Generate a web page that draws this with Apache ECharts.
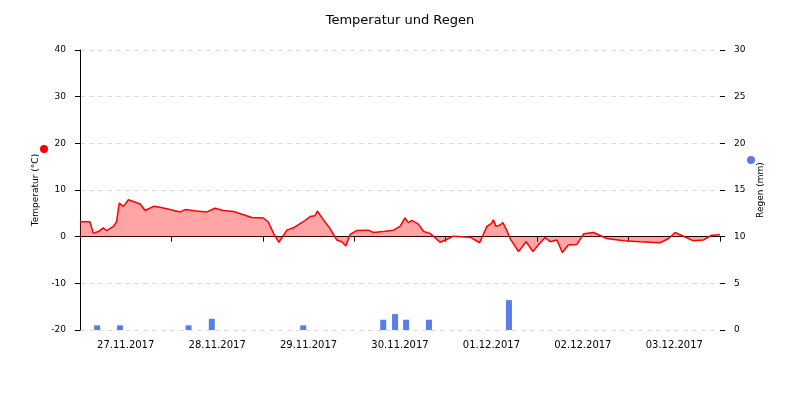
<!DOCTYPE html>
<html lang="de">
<head>
    <meta charset="UTF-8">
    <title>Temperatur und Regen</title>
    <script src="https://cdn.jsdelivr.net/npm/echarts@6/dist/echarts.min.js"></script>
</head>
<body style="margin:0">
    <div id="box" style="width: 800px; height: 400px; background-color: white;"></div>
    <script>
        // Stunden ab 27.11.2017 00:00
        var dayLabels = ['27.11.2017', '28.11.2017', '29.11.2017', '30.11.2017', '01.12.2017', '02.12.2017', '03.12.2017'];
        var tempHours = [0, 2.6, 3.5, 4.8, 6.1, 7, 8.8, 9.6, 10.3, 11.4, 12.7, 15.8, 17.1, 19.3, 21, 23.6, 26.3, 27.6, 30.6, 33.3,
            35.4, 37.6, 40.3, 42.9, 45.1, 48.1, 49.4, 50.8, 52.2, 54.3, 56, 58.6, 60.4, 61.7, 62.3, 63.9, 65.6, 67.4, 68.7, 69.8,
            70.9, 72.6, 75.7, 77, 79.6, 82.3, 84, 85.3, 86.2, 87.1, 88.8, 90.2, 91.9, 94.5, 96.3, 98, 102.4, 104.9, 106.8, 108.1,
            108.5, 109.2, 110.3, 111, 112, 112.9, 115.1, 117.1, 118.9, 120.3, 122.1, 123.4, 125.2, 126.6, 128.2, 130.4, 132.2, 134.8,
            138.3, 142.7, 147, 152.3, 154.5, 156.2, 158.4, 161, 163.7, 165.8, 168];
        var tempValues = [3.2, 3.2, 0.7, 1.1, 1.9, 1.3, 2.2, 3.2, 7.2, 6.5, 7.9, 7.0, 5.6, 6.5, 6.3, 5.8, 5.3, 5.8, 5.5, 5.3,
            6.1, 5.6, 5.4, 4.7, 4.1, 4.0, 3.2, 0.7, -1.2, 1.4, 1.9, 3.2, 4.3, 4.5, 5.5, 3.6, 1.8, -0.7, -1.1, -2.0,
            0.5, 1.3, 1.4, 0.9, 1.1, 1.4, 2.2, 4.0, 3.0, 3.5, 2.7, 1.1, 0.7, -1.2, -0.6, 0.1, -0.1, -1.3, 2.2, 2.9,
            3.6, 2.2, 2.5, 3.0, 1.4, -0.4, -3.2, -1.1, -3.2, -1.8, -0.2, -1.1, -0.7, -3.4, -1.8, -1.7, 0.6, 0.9,
            -0.4, -0.9, -1.1, -1.3, -0.4, 0.9, 0.1, -0.9, -0.7, 0.3, 0.4];
        var rainHours = [4.5, 10.5, 28.5, 34.6, 58.6, 79.6, 82.7, 85.6, 91.6, 112.6];
        var rainValues = [0.5, 0.5, 0.5, 1.2, 0.5, 1.1, 1.7, 1.1, 1.1, 3.2];

        var font = 'DejaVu Sans';
        var chart = echarts.init(document.getElementById('box'));
        chart.setOption({
            animation: false,
            textStyle: { fontFamily: font },
            title: {
                text: 'Temperatur und Regen', left: 'center', top: 9,
                textStyle: { fontSize: 13, fontWeight: 'normal', color: '#000', fontFamily: font }
            },
            grid: { left: 80, right: 80, top: 50, bottom: 70 },
            xAxis: {
                type: 'value', min: 0, max: 168,
                axisLine: { show: true, lineStyle: { color: '#000' } },
                axisTick: { show: true, length: 5, lineStyle: { color: '#000' }, customValues: [24, 48, 72, 96, 120, 144, 168] },
                axisLabel: {
                    color: '#000', fontSize: 10, margin: 10,
                    customValues: [12, 36, 60, 84, 108, 132, 156],
                    formatter: function (v) { return dayLabels[Math.floor(v / 24)] || ''; }
                },
                splitLine: { show: false }
            },
            yAxis: [{
                type: 'value', min: -20, max: 40, interval: 10,
                name: 'Temperatur (°C)', nameLocation: 'middle', nameGap: 32, nameRotate: 90,
                nameTextStyle: { fontSize: 9, color: '#000' },
                axisLine: { show: true, lineStyle: { color: '#000' } },
                axisTick: { show: true, length: 5, lineStyle: { color: '#000' } },
                axisLabel: { color: '#000', fontSize: 9, margin: 14 },
                splitLine: { lineStyle: { type: [5, 4], color: '#ddd' } }
            }, {
                type: 'value', min: 0, max: 30, interval: 5,
                name: 'Regen (mm)', nameLocation: 'middle', nameGap: 28, nameRotate: 90,
                nameTextStyle: { fontSize: 9, color: '#000' },
                axisLine: { show: false },
                axisTick: { show: true, length: 5, lineStyle: { color: '#000' } },
                axisLabel: { color: '#000', fontSize: 9, margin: 14 },
                splitLine: { show: false }
            }],
            graphic: [
                { type: 'circle', shape: { cx: 44, cy: 149, r: 4 }, style: { fill: '#ff0000' } },
                { type: 'circle', shape: { cx: 751, cy: 160, r: 4 }, style: { fill: '#5a7ee8' } }
            ],
            series: [{
                type: 'line', name: 'Temperatur', yAxisIndex: 0, showSymbol: false,
                lineStyle: { color: '#ff0000', width: 1.5 },
                itemStyle: { color: '#ff0000' },
                areaStyle: { color: 'rgba(255,0,0,0.5)', origin: 0 },
                data: tempHours.map(function (h, i) { return [h, tempValues[i]]; })
            }, {
                type: 'bar', name: 'Regen', yAxisIndex: 1, barWidth: 6,
                itemStyle: { color: '#5a7ee8' },
                data: rainHours.map(function (h, i) { return [h, rainValues[i]]; })
            }]
        });
    </script>
</body>
</html>
